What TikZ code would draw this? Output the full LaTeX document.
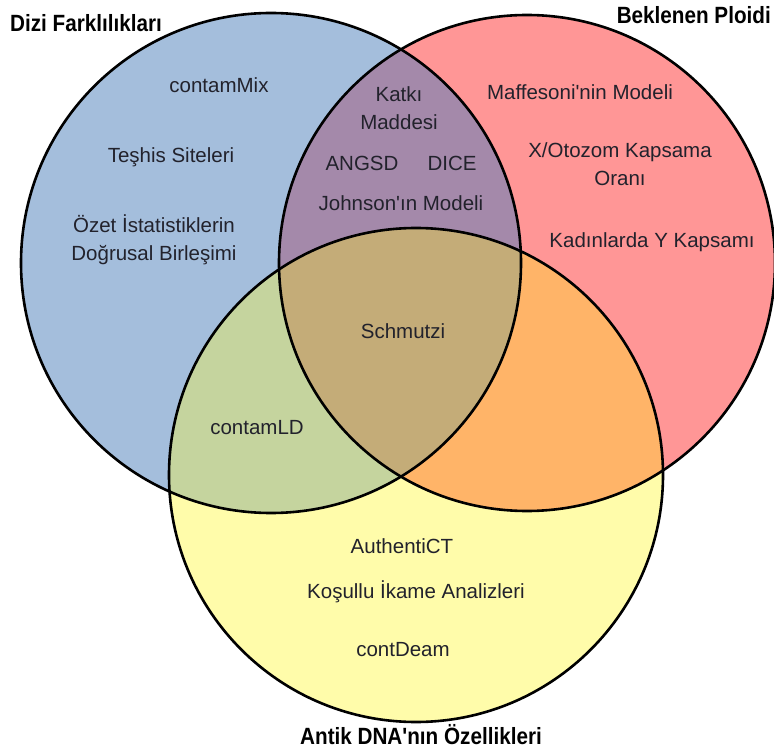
\documentclass[tikz,border=0pt]{standalone}
\usepackage{fontspec}
\setmainfont{Liberation Sans}[Ligatures=TeXOff]
\newfontfamily\titlefont{Liberation Sans}[FakeStretch=0.88,Ligatures=TeXOff]
\definecolor{cblue}{HTML}{A4BEDC}
\definecolor{cred}{HTML}{FF9696}
\definecolor{cyellow}{HTML}{FFFCAA}
\definecolor{cpurple}{HTML}{A489AA}
\definecolor{cgreen}{HTML}{C5D49E}
\definecolor{corange}{HTML}{FFB468}
\definecolor{ccenter}{HTML}{C4AC78}
\definecolor{ctext}{HTML}{22222C}
\begin{document}
\begin{tikzpicture}[x=1pt,y=-1pt,
  lbl/.style={font=\fontsize{20.5}{28}\selectfont, text=ctext, align=center, inner sep=0pt},
  ttl/.style={font=\titlefont\bfseries\fontsize{23.5}{28}\selectfont, text=black, inner sep=0pt},
  ring/.style={draw=black, line width=2.6pt}]
\useasboundingbox (0,0) rectangle (774,751);
\fill[white] (0,0) rectangle (774,751);
\coordinate (B) at (271,263);
\coordinate (R) at (527,263);
\coordinate (Y) at (416,475);
% base fills
\fill[cblue] (B) circle[radius=250];
\fill[cred] (R) circle[radius=248];
\fill[cyellow] (Y) circle[radius=247];
% pairwise overlaps
\begin{scope}
  \clip (B) circle[radius=250];
  \fill[cpurple] (R) circle[radius=248];
  \fill[cgreen] (Y) circle[radius=247];
\end{scope}
\begin{scope}
  \clip (R) circle[radius=248];
  \fill[corange] (Y) circle[radius=247];
  \clip (B) circle[radius=250];
  \fill[ccenter] (Y) circle[radius=247];
\end{scope}
% outlines
\draw[ring] (B) circle[radius=250];
\draw[ring] (R) circle[radius=248];
\draw[ring] (Y) circle[radius=247];
% titles
\node[ttl, anchor=base west] (t1) at (10,32) {Dizi Farklılıkları};
\node[ttl, anchor=base east] (t2) at (771,24) {Beklenen Ploidi};
\node[ttl, anchor=base] (t3) at (421,744) {Antik DNA'nın Özellikleri};
% blue only
\node[lbl] (n1) at (219,85) {contamMix};
\node[lbl] (n2) at (171,157) {Teşhis Siteleri};
\node[lbl] (n3) at (154,240) {Özet İstatistiklerin\\Doğrusal Birleşimi};
% blue & red
\node[lbl] (n4) at (399,108) {Katkı\\Maddesi};
\node[lbl] (n5) at (362,163) {ANGSD};
\node[lbl] (n6) at (452,163) {DICE};
\node[lbl] (n7) at (401,203) {Johnson'ın Modeli};
% red only
\node[lbl] (n8) at (580,92) {Maffesoni'nin Modeli};
\node[lbl] (n9) at (620,164) {X/Otozom Kapsama\\Oranı};
\node[lbl] (n10) at (652,242) {Kadınlarda Y Kapsamı};
% centre
\node[lbl] (n11) at (403,331) {Schmutzi};
% blue & yellow
\node[lbl] (n12) at (257,428) {contamLD};
% yellow only
\node[lbl] (n13) at (402,546) {AuthentiCT};
\node[lbl] (n14) at (416,592) {Koşullu İkame Analizleri};
\node[lbl] (n15) at (403,650) {contDeam};
\end{tikzpicture}
\end{document}
